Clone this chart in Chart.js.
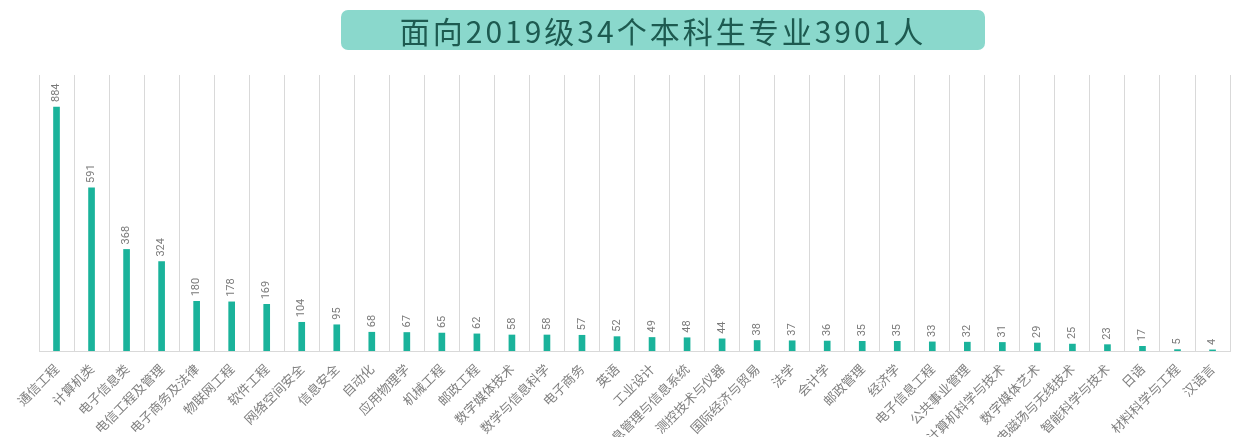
<!DOCTYPE html>
<html>
<head>
<meta charset="utf-8">
<script src="https://cdn.jsdelivr.net/npm/chart.js@4/dist/chart.umd.min.js"></script>
<style>
  html, body { margin: 0; padding: 0; background: #fff; }
  #wrap { position: relative; width: 1233px; height: 437px; overflow: hidden; }
  #title {
    position: absolute; left: 341px; top: 10px; width: 644px; height: 40px;
    background: #8ad8cc; border-radius: 7px;
    font-family: "Noto Sans CJK SC", sans-serif; font-size: 30px; line-height: 40px;
    letter-spacing: 3px; color: #1d5a50; text-align: center;
  }
  canvas { position: absolute; left: 0; top: 0; }
</style>
</head>
<body>
<div id="wrap">
  <canvas id="barChart" width="1233" height="437"></canvas>
  <div id="title">面向2019级34个本科生专业3901人</div>
</div>
<script>
// 专业与人数
const majors = ['通信工程', '计算机类', '电子信息类', '电信工程及管理', '电子商务及法律', '物联网工程', '软件工程',
  '网络空间安全', '信息安全', '自动化', '应用物理学', '机械工程', '邮政工程', '数字媒体技术', '数学与信息科学',
  '电子商务', '英语', '工业设计', '信息管理与信息系统', '测控技术与仪器', '国际经济与贸易', '法学', '会计学',
  '邮政管理', '经济学', '电子信息工程', '公共事业管理', '计算机科学与技术', '数字媒体艺术', '电磁场与无线技术',
  '智能科学与技术', '日语', '材料科学与工程', '汉语言'];
const counts = [884, 591, 368, 324, 180, 178, 169, 104, 95, 68, 67, 65, 62, 58, 58, 57, 52, 49, 48, 44,
  38, 37, 36, 35, 35, 33, 32, 31, 29, 25, 23, 17, 5, 4];

// 柱顶竖排数字
const valueLabels = {
  id: 'valueLabels',
  afterDatasetsDraw(chart) {
    const ctx = chart.ctx;
    const meta = chart.getDatasetMeta(0);
    ctx.save();
    ctx.fillStyle = '#7a7a7a';
    ctx.font = '11px "Liberation Sans Narrow", "Roboto", sans-serif';
    ctx.textAlign = 'left';
    ctx.textBaseline = 'middle';
    meta.data.forEach(function (bar, i) {
      ctx.save();
      ctx.translate(bar.x, bar.y - 5);
      ctx.rotate(-Math.PI / 2);
      ctx.fillText(counts[i], 0, 0);
      ctx.restore();
    });
    ctx.restore();
  }
};

const ctx = document.getElementById('barChart').getContext('2d');
new Chart(ctx, {
  type: 'bar',
  data: {
    labels: majors,
    datasets: [{
      data: counts,
      backgroundColor: '#1ab39b',
      barThickness: 6
    }]
  },
  options: {
    responsive: false,
    animation: false,
    layout: { padding: { top: 75, right: 0, left: 0, bottom: 0 } },
    plugins: {
      legend: { display: false },
      tooltip: { enabled: false }
    },
    scales: {
      x: {
        grid: { color: '#d9d9d9', drawTicks: false, offset: true },
        border: { color: '#d9d9d9' },
        ticks: {
          minRotation: 45, maxRotation: 45, autoSkip: false, padding: 10,
          color: '#808080',
          font: { family: '"Noto Sans CJK SC", sans-serif', size: 13 }
        },
        afterFit(scale) {
          scale.height = 86;
          scale.paddingLeft = 39;
        }
      },
      y: {
        display: false,
        min: 0,
        max: 1000
      }
    }
  },
  plugins: [valueLabels]
});
</script>
</body>
</html>
